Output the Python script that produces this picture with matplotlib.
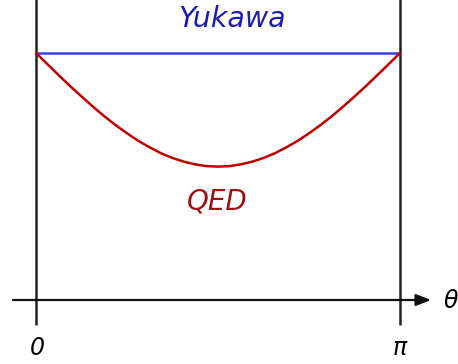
import numpy as np
import matplotlib.pyplot as plt

# angle samples (in units of pi/32) and the two curves, Yukawa normalised to 1
theta_steps = list(range(33))
yukawa = [1.0] * 33
qed = [1.000, 0.955, 0.910, 0.866, 0.824, 0.783, 0.744, 0.708, 0.675,
       0.644, 0.618, 0.594, 0.575, 0.560, 0.549, 0.542, 0.540,
       0.542, 0.549, 0.560, 0.575, 0.594, 0.618, 0.644, 0.675,
       0.708, 0.744, 0.783, 0.824, 0.866, 0.910, 0.955, 1.000]
tick_labels = ["0", "\u03c0"]

theta = np.array(theta_steps) * np.pi / 32

fig = plt.figure(figsize=(4.58, 3.64), dpi=100)
ax = fig.add_axes([0, 0, 1, 1])
ax.set_xlim(-0.3107, 3.642)
ax.set_ylim(-0.2591, 1.2146)
ax.axis("off")

# walls at 0 and pi
for x in (0, np.pi):
    ax.plot([x, x], [-0.101, 1.3], color="#222222", lw=1.8, solid_capstyle="butt")

# theta axis with arrow
ax.annotate("", xy=(3.41, 0), xytext=(-0.199, 0),
            arrowprops=dict(arrowstyle="-|>,head_length=0.9,head_width=0.35",
                            lw=1.6, color="#111111", shrinkA=0, shrinkB=0))

ax.plot(theta, yukawa, color="#3c3cf0", lw=1.8, zorder=3)
ax.plot(theta, qed, color="#c00000", lw=1.8, zorder=3,
        solid_joinstyle="round", solid_capstyle="round")

ax.text(1.69, 1.138, "Yukawa", color="#1c1cb0", fontsize=20.5, style="italic",
        ha="center", va="center")
ax.text(1.56, 0.40, "QED", color="#a00f0f", fontsize=20, style="italic",
        ha="center", va="center")

ax.text(0.01, -0.195, tick_labels[0], fontsize=17, style="italic", ha="center", va="center")
ax.text(np.pi, -0.195, tick_labels[1], fontsize=17, style="italic", ha="center", va="center")
ax.text(3.515, -0.005, "\u03b8", fontsize=17, style="italic", ha="left", va="center")

fig.savefig("out.png", dpi=100)
